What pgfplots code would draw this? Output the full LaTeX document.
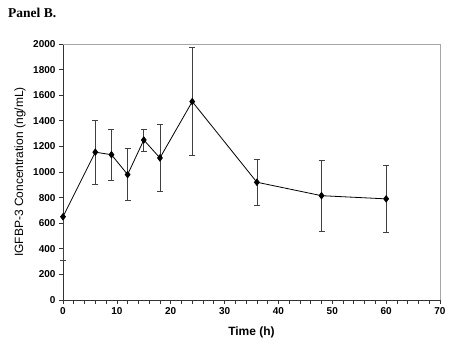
\documentclass[border=0pt]{standalone}
\usepackage{pgfplots}
\pgfplotsset{compat=1.18}
\usepackage{fontspec}
\setmainfont{Liberation Sans}
\newfontfamily\serifb{Liberation Serif}
\begin{document}
\begin{tikzpicture}[x=1pt,y=1pt]
\useasboundingbox (0,0) rectangle (450,345);
\node[anchor=west,inner sep=0pt,font=\serifb\bfseries\fontsize{13.5}{15}\selectfont] at (8,332) {Panel B.};
\begin{axis}[
  at={(63pt,45pt)}, anchor=south west,
  scale only axis, width=377pt, height=256pt,
  xmin=0, xmax=70, ymin=0, ymax=2000,
  axis x line*=bottom, axis y line*=left,
  axis line style={-, black!80, line width=0.8pt},
  xtick={0,10,...,70}, minor xtick={2,4,...,68},
  ytick={0,200,...,2000},
  tick align=outside, tick style={black!80, line width=0.7pt},
  major tick length=4pt, minor tick length=4pt,
  tick label style={font=\bfseries\fontsize{10}{12}\selectfont},
  /pgf/number format/assume math mode=true,
  /pgf/number format/1000 sep={},
  xlabel={Time (h)},
  ylabel={IGFBP-3 Concentration (ng/mL)},
  xlabel style={font=\bfseries\fontsize{12}{14}\selectfont, at={(axis description cs:0.5,-0.125)}, anchor=center},
  ylabel style={font=\fontsize{12}{14}\selectfont, at={(axis description cs:-0.114,0.5)}, anchor=center},
  clip=false,
]
\draw[gray!70, line width=0.7pt] (rel axis cs:0,1) -- (rel axis cs:1,1) -- (rel axis cs:1,0);
\addplot[black, line width=0.8pt, mark=diamond*, mark size=3.2pt,
  error bars/.cd, y dir=both, y explicit,
  error bar style={black!75, line width=0.7pt},
  error mark options={rotate=90, mark size=3pt, black!75, line width=0.7pt}]
  coordinates {
  (0,650) +- (0,0)
  (6,1155) +- (0,250)
  (9,1135) +- (0,202)
  (12,980) +- (0,205)
  (15,1250) +- (0,87)
  (18,1110) +- (0,260)
  (24,1550) +- (0,422)
  (36,920) +- (0,178)
  (48,815) +- (0,278)
  (60,790) +- (0,263)
};
\addplot[draw=none, forget plot, error bars/.cd, y dir=minus, y explicit,
  error bar style={black!75, line width=0.7pt},
  error mark options={rotate=90, mark size=3pt, black!75, line width=0.7pt}]
  coordinates {(0,650) -= (0,340)};
\end{axis}
\end{tikzpicture}
\end{document}
